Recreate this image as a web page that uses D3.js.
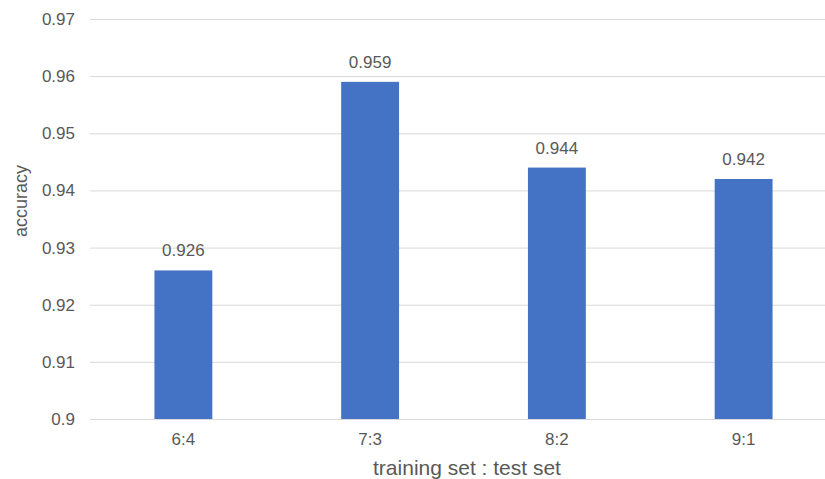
<!DOCTYPE html>
<html>
<head>
<meta charset="utf-8">
<script src="https://cdn.jsdelivr.net/npm/d3@7"></script>
<style>
  html, body { margin: 0; padding: 0; background: #fff; }
  svg { display: block; font-family: "Liberation Sans", Arial, sans-serif; }
</style>
</head>
<body>
<svg id="chart" width="825" height="479"></svg>
<script>
// Split ratios and the accuracy reached with each
const ratios = ["6:4", "7:3", "8:2", "9:1"];
const accuracy = [0.926, 0.959, 0.944, 0.942];
const yTicks = [0.9, 0.91, 0.92, 0.93, 0.94, 0.95, 0.96, 0.97];

const svg = d3.select("#chart");
const margin = { left: 90, right: -12, top: 19, bottom: 60 };
const W = 825, H = 479;

const x = d3.scaleBand()
  .domain(ratios)
  .range([margin.left, W - margin.right])
  .paddingInner(0.69)
  .paddingOuter(0.345);

const y = d3.scaleLinear()
  .domain([0.9, 0.97])
  .range([H - margin.bottom, margin.top]);

const textColor = "#595959";

// Horizontal gridlines with tick labels
const yAxis = svg.append("g")
  .attr("transform", `translate(${margin.left},0)`)
  .call(d3.axisLeft(y).tickValues(yTicks).tickFormat(d3.format("")).tickSize(-(W - margin.right - margin.left)).tickPadding(15));
yAxis.select(".domain").remove();
yAxis.selectAll(".tick line").attr("stroke", "#d9d9d9").attr("stroke-width", 1);
yAxis.selectAll(".tick text")
  .attr("fill", textColor)
  .style("font-size", "17px");

// Bars
svg.append("g").selectAll("rect")
  .data(ratios)
  .join("rect")
  .attr("x", d => x(d))
  .attr("width", x.bandwidth())
  .attr("y", (d, i) => y(accuracy[i]))
  .attr("height", (d, i) => y(0.9) - y(accuracy[i]))
  .attr("fill", "#4472c4");

// Value labels above bars
svg.append("g").selectAll("text")
  .data(ratios)
  .join("text")
  .attr("x", d => x(d) + x.bandwidth() / 2)
  .attr("y", (d, i) => y(accuracy[i]) - 14)
  .attr("text-anchor", "middle")
  .attr("fill", textColor)
  .style("font-size", "17px")
  .text((d, i) => d3.format(".3f")(accuracy[i]));

// Category axis
const xAxis = svg.append("g")
  .attr("transform", `translate(0,${y(0.9)})`)
  .call(d3.axisBottom(x).tickSize(0).tickPadding(14));
xAxis.select(".domain").remove();
xAxis.selectAll(".tick text")
  .attr("fill", textColor)
  .style("font-size", "17px");

// Axis titles
svg.append("text")
  .attr("x", 467)
  .attr("y", 475)
  .attr("text-anchor", "middle")
  .attr("fill", textColor)
  .style("font-size", "21px")
  .text("training set : test set");

svg.append("text")
  .attr("transform", `translate(27,201) rotate(-90)`)
  .attr("text-anchor", "middle")
  .attr("fill", textColor)
  .style("font-size", "18px")
  .text("accuracy");
</script>
</body>
</html>
